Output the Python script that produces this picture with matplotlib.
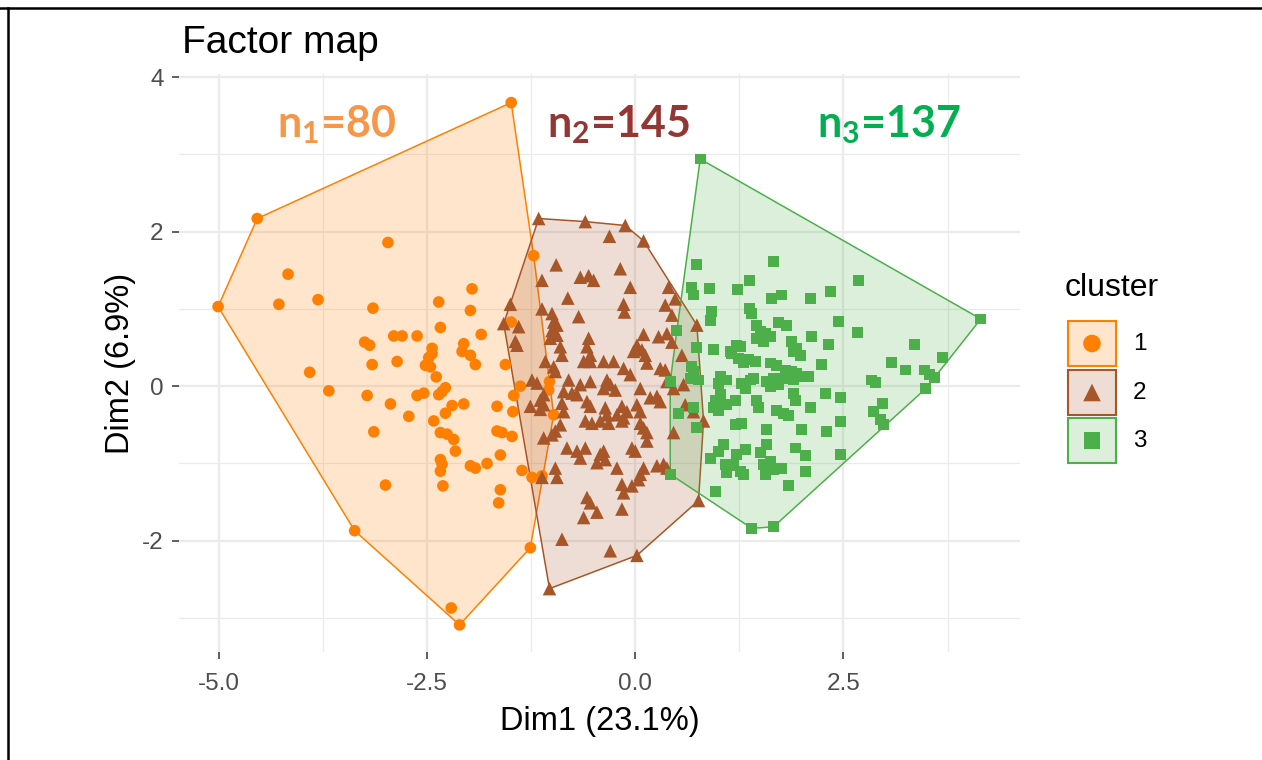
import numpy as np
import matplotlib.pyplot as plt
from matplotlib.patches import Polygon, Rectangle
from matplotlib.lines import Line2D

plt.rcParams['font.family'] = ['Liberation Sans', 'DejaVu Sans']
plt.rcParams['axes.unicode_minus'] = False
plt.rcParams['mathtext.fontset'] = 'custom'
plt.rcParams['mathtext.rm'] = 'Lato'
plt.rcParams['mathtext.bf'] = 'Lato:bold'

# cluster 1 (Dim1, Dim2)
cluster1 = [(-1.49, 3.67), (-4.54, 2.17), (-2.97, 1.86), (-1.22, 1.69), (-4.17, 1.45),
            (-5.01, 1.03), (-4.28, 1.06), (-3.81, 1.12), (-1.96, 1.26), (-2.36, 1.09),
            (-3.15, 1.01), (-1.98, 0.98), (-1.49, 0.83), (-2.34, 0.76), (-1.85, 0.67),
            (-2.90, 0.65), (-2.80, 0.65), (-2.62, 0.65), (-3.25, 0.57), (-3.19, 0.53),
            (-2.44, 0.49), (-2.06, 0.55), (-2.08, 0.45), (-1.98, 0.40), (-1.92, 0.28),
            (-2.48, 0.37), (-2.52, 0.27), (-2.46, 0.25), (-3.16, 0.28), (-2.86, 0.32),
            (-1.56, 0.28), (-3.91, 0.18), (-2.39, 0.12), (-3.68, -0.06), (-3.22, -0.12),
            (-2.32, -0.07), (-2.28, -0.02), (-2.36, -0.11), (-2.62, -0.12), (-2.54, -0.09),
            (-1.38, 0.00), (-1.46, -0.12), (-2.94, -0.23), (-2.20, -0.25), (-2.28, -0.35),
            (-2.06, -0.23), (-1.66, -0.26), (-1.47, -0.33), (-2.72, -0.39), (-2.42, -0.45),
            (-3.14, -0.59), (-2.34, -0.60), (-2.26, -0.62), (-2.18, -0.69), (-1.66, -0.58),
            (-1.60, -0.60), (-1.48, -0.65), (-2.16, -0.84), (-1.62, -0.89), (-2.34, -0.95),
            (-2.32, -1.01), (-2.34, -1.10), (-1.98, -1.03), (-1.92, -1.06), (-1.78, -1.00),
            (-1.36, -1.09), (-1.24, -1.18), (-3.00, -1.28), (-2.31, -1.29), (-1.62, -1.34),
            (-1.64, -1.51), (-3.37, -1.87), (-1.26, -2.09), (-2.21, -2.87), (-2.11, -3.09),
            (-1.03, 0.06), (-1.04, -0.05), (-0.98, -0.37), (-1.12, -1.16), (-2.44, 0.42)]

# cluster 2
cluster2 = [(-1.16, 2.17), (-0.60, 2.13), (-0.12, 2.08), (-0.31, 1.94), (0.10, 1.88),
            (-0.95, 1.57), (-0.18, 1.52), (-0.66, 1.41), (-0.56, 1.43), (-0.50, 1.37),
            (-1.12, 1.37), (-0.06, 1.28), (0.40, 1.28), (0.48, 1.13), (-0.81, 1.14),
            (-0.14, 1.06), (-0.13, 0.96), (-1.50, 1.06), (0.36, 1.05), (0.44, 0.92),
            (-1.12, 1.00), (-1.00, 0.94), (-0.68, 0.90), (-1.58, 0.81), (-1.40, 0.77),
            (-0.94, 0.79), (-1.00, 0.72), (-1.02, 0.62), (0.74, 0.79), (-1.44, 0.58),
            (-1.42, 0.53), (-0.56, 0.62), (0.10, 0.67), (0.28, 0.64), (0.38, 0.68),
            (0.44, 0.57), (-0.90, 0.51), (-0.88, 0.40), (-0.58, 0.51), (-0.54, 0.40),
            (-0.62, 0.32), (-0.54, 0.32), (0.02, 0.53), (0.08, 0.47), (0.12, 0.40),
            (-0.02, 0.45), (0.14, 0.30), (-1.08, 0.32), (-0.98, 0.25), (-0.96, 0.19),
            (-0.38, 0.32), (-0.26, 0.32), (-0.14, 0.23), (-0.06, 0.15), (0.30, 0.23),
            (0.36, 0.21), (-1.24, 0.08), (-1.18, 0.04), (-0.80, 0.08), (-0.66, 0.02),
            (-0.54, 0.06), (-0.34, 0.08), (-0.30, 0.02), (-0.38, -0.03), (-0.24, -0.05),
            (0.06, -0.03), (0.38, 0.06), (0.46, -0.03), (0.58, 0.02), (-0.86, -0.07),
            (-0.76, -0.09), (-1.10, -0.11), (-0.70, -0.11), (-1.14, -0.18), (-1.10, -0.24),
            (-1.26, -0.26), (-0.88, -0.22), (-0.58, -0.20), (-0.54, -0.26), (-0.16, -0.26),
            (-0.10, -0.33), (-0.14, -0.41), (0.02, -0.24), (0.06, -0.33), (0.18, -0.15),
            (0.26, -0.13), (0.30, -0.20), (-0.36, -0.28), (-0.34, -0.37), (-0.42, -0.45),
            (-0.32, -0.48), (-0.60, -0.45), (-0.52, -0.48), (-0.22, -0.37), (-0.16, -0.45),
            (0.06, -0.48), (0.10, -0.54), (0.14, -0.60), (-0.86, -0.33), (-0.90, -0.50),
            (-0.96, -0.58), (-1.10, -0.67), (-1.00, -0.63), (-0.82, -0.80), (-0.70, -0.84),
            (-0.60, -0.80), (-0.66, -0.93), (-0.42, -0.88), (-0.38, -0.84), (-0.46, -0.99),
            (-0.36, -0.95), (-0.04, -0.80), (0.00, -0.84), (0.14, -0.71), (-0.22, -1.06),
            (0.10, -1.06), (0.06, -1.14), (0.04, -1.21), (0.26, -1.03), (0.34, -1.01),
            (0.38, -1.06), (-0.96, -1.06), (-0.94, -1.18), (-1.12, -1.18), (-0.16, -1.27),
            (-0.14, -1.38), (-0.04, -1.29), (-0.58, -1.44), (-0.54, -1.51), (-0.46, -1.63),
            (-0.62, -1.70), (-0.16, -1.59), (0.76, -1.48), (0.82, -0.45), (0.70, -0.33),
            (0.46, -0.60), (-0.88, -1.98), (-0.30, -2.13), (0.02, -2.19), (-1.03, -2.62),
            (-0.98, 0.83), (-0.94, 0.66), (-1.14, -0.30), (0.56, 0.40), (0.60, -0.24)]

# cluster 3
cluster3 = [(0.78, 2.94), (4.15, 0.87), (0.73, 1.58), (1.66, 1.61), (1.37, 1.37),
            (2.68, 1.37), (0.68, 1.28), (0.70, 1.18), (0.89, 1.27), (1.23, 1.25),
            (1.64, 1.14), (1.76, 1.18), (2.10, 1.14), (2.34, 1.22), (1.37, 1.01),
            (1.40, 0.94), (0.92, 0.97), (0.90, 0.85), (1.46, 0.79), (1.50, 0.71),
            (1.56, 0.68), (1.72, 0.82), (1.82, 0.79), (2.44, 0.84), (2.67, 0.70),
            (0.50, 0.72), (2.12, 0.64), (3.35, 0.54), (3.69, 0.37), (3.08, 0.31),
            (3.25, 0.21), (3.47, 0.21), (3.53, 0.15), (3.59, 0.11), (3.49, -0.03),
            (2.84, 0.08), (2.88, 0.05), (2.97, -0.23), (2.86, -0.33), (2.94, -0.43),
            (2.98, -0.50), (2.46, -0.88), (2.46, -0.46), (2.30, -0.59), (2.46, -0.15),
            (2.28, -0.09), (2.24, 0.28), (2.32, 0.54), (2.10, -0.27), (2.00, -0.56),
            (1.92, -0.80), (2.04, -0.90), (2.05, -1.11), (1.84, -1.28), (1.66, -1.82),
            (1.40, -1.84), (0.96, -1.36), (1.58, -0.56), (1.20, -0.50), (1.28, -0.48),
            (1.58, -0.75), (1.50, -0.86), (1.32, -0.82), (1.22, -0.88), (1.08, -1.01),
            (1.18, -1.03), (1.10, -1.12), (1.26, -1.10), (1.30, -1.14), (0.90, -0.93),
            (1.00, -0.84), (1.06, -0.75), (1.54, -1.01), (1.62, -0.97), (1.66, -1.08),
            (1.76, -1.06), (1.56, -1.14), (1.46, -0.19), (1.48, -0.28), (1.70, -0.31),
            (1.78, -0.35), (1.84, -0.38), (1.92, -0.18), (1.90, -0.09), (1.20, -0.19),
            (1.10, -0.24), (1.00, -0.31), (0.94, -0.28), (1.02, -0.11), (0.96, -0.18),
            (1.00, 0.04), (1.10, 0.08), (1.02, 0.12), (1.28, 0.04), (1.38, 0.08),
            (1.42, 0.10), (1.32, -0.03), (1.58, 0.06), (1.66, 0.10), (1.74, 0.10),
            (1.62, 0.00), (1.72, 0.02), (1.82, 0.10), (1.90, 0.08), (1.98, 0.12),
            (2.08, 0.12), (1.80, 0.21), (1.70, 0.27), (1.62, 0.30), (1.88, 0.19),
            (1.94, 0.17), (1.16, 0.42), (1.24, 0.36), (1.30, 0.30), (1.36, 0.34),
            (1.44, 0.32), (1.26, 0.51), (1.14, 0.45), (1.22, 0.53), (1.46, 0.62),
            (1.54, 0.58), (1.62, 0.64), (1.88, 0.58), (1.94, 0.49), (1.98, 0.40),
            (1.90, 0.45), (0.94, 0.48), (0.74, 0.50), (0.68, 0.25), (0.70, 0.19),
            (0.66, 0.10), (0.76, 0.08), (0.42, 0.06), (0.52, -0.35), (0.70, -0.28),
            (0.73, -0.54), (0.42, -1.14)]

clusters = ['1', '2', '3']
colors = ['#FF7F00', '#A65628', '#4DAF4A']
markers = ['o', '^', 's']
n_labels = [r'n$\mathbf{_1}$=80', r'n$\mathbf{_2}$=145', r'n$\mathbf{_3}$=137']
n_colors = ['#F79646', '#943634', '#00B050']
n_pos_x = [-3.59, -0.20, 3.04]
n_pos_y = [3.23, 3.23, 3.23]

xticks = [-5.0, -2.5, 0.0, 2.5]
xticklabels = ['-5.0', '-2.5', '0.0', '2.5']
yticks = [-2, 0, 2, 4]
yticklabels = ['-2', '0', '2', '4']


def convex_hull(pts):
    pts = sorted(set(pts))

    def cross(o, a, b):
        return (a[0] - o[0]) * (b[1] - o[1]) - (a[1] - o[1]) * (b[0] - o[0])
    lower = []
    for p in pts:
        while len(lower) >= 2 and cross(lower[-2], lower[-1], p) <= 0:
            lower.pop()
        lower.append(p)
    upper = []
    for p in reversed(pts):
        while len(upper) >= 2 and cross(upper[-2], upper[-1], p) <= 0:
            upper.pop()
        upper.append(p)
    return lower[:-1] + upper[:-1]


fig = plt.figure(figsize=(12.62, 7.60), dpi=100)
ax = fig.add_axes([0.1418, 0.1421, 0.6664, 0.7605])
ax.set_facecolor('white')
for s in ax.spines.values():
    s.set_visible(False)

ax.set_xlim(-5.48, 4.62)
ax.set_ylim(-3.44, 4.04)
ax.set_xticks(xticks)
ax.set_xticklabels(xticklabels)
ax.set_yticks(yticks)
ax.set_yticklabels(yticklabels)
ax.set_xticks([-3.75, -1.25, 1.25, 3.75], minor=True)
ax.set_yticks([-3, -1, 1, 3], minor=True)
ax.grid(True, which='major', color='#EBEBEB', lw=1.6)
ax.grid(True, which='minor', color='#EBEBEB', lw=0.9)
ax.set_axisbelow(True)
ax.tick_params(which='major', length=5, width=1.1, color='#333333',
               labelsize=17.5, labelcolor='#4D4D4D')
ax.tick_params(axis='x', which='major', pad=10)
ax.tick_params(axis='y', which='major', pad=6)
ax.tick_params(which='minor', length=0)

ax.set_xlabel('Dim1 (23.1%)', fontsize=23.5, labelpad=8)
ax.set_ylabel('Dim2 (6.9%)', fontsize=23.5, labelpad=4)

for i, pts in enumerate([cluster1, cluster2, cluster3]):
    hull = convex_hull(pts)
    ax.add_patch(Polygon(hull, closed=True, facecolor=colors[i], alpha=0.2,
                         edgecolor='none', zorder=2))
    ax.add_patch(Polygon(hull, closed=True, facecolor='none',
                         edgecolor=colors[i], lw=1.1, zorder=2))
for i, pts in enumerate([cluster1, cluster2, cluster3]):
    arr = np.array(pts)
    sz = 70 if markers[i] == 'o' else (95 if markers[i] == '^' else 62)
    ax.scatter(arr[:, 0], arr[:, 1], s=sz, marker=markers[i], color=colors[i],
               edgecolors='none', zorder=3)

for i in range(3):
    ax.text(n_pos_x[i], n_pos_y[i], n_labels[i], color=n_colors[i], fontsize=31,
            family='Lato', fontweight='bold', ha='center', va='baseline', zorder=5)

fig.text(182 / 1262, 1 - 53 / 760, 'Factor map', fontsize=28, va='baseline',
         ha='left', color='black')

# legend drawn in pixel space
lax = fig.add_axes([0, 0, 1, 1], facecolor='none')
lax.set_xlim(0, 1262)
lax.set_ylim(760, 0)
lax.axis('off')
lax.text(1065, 288, 'cluster', fontsize=23, va='center', ha='left')
key_tops = [321, 370, 418]
for i in range(3):
    t = key_tops[i]
    lax.add_patch(Rectangle((1068, t), 48, 45, facecolor=colors[i], alpha=0.2,
                            edgecolor='none'))
    lax.add_patch(Rectangle((1068, t), 48, 45, facecolor='none',
                            edgecolor=colors[i], lw=1.5))
    lax.scatter([1092], [t + 22.5], s=160 if markers[i] != 's' else 140,
                marker=markers[i], color=colors[i], edgecolors='none')
    lax.text(1133, t + 23, clusters[i], fontsize=17.5, va='center', ha='left')

# frame lines of the screenshot
fig.add_artist(Line2D([0, 1], [1 - 8 / 760, 1 - 8 / 760], color='black', lw=1.8))
fig.add_artist(Line2D([8 / 1262, 8 / 1262], [0, 1 - 8 / 760], color='black', lw=1.8))

fig.savefig('out.png', dpi=100)
